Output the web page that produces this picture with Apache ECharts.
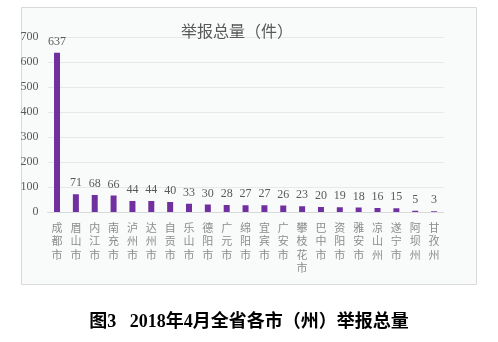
<!DOCTYPE html>
<html><head><meta charset="utf-8">
<script src="https://cdn.jsdelivr.net/npm/echarts@6/dist/echarts.min.js"></script>
<style>html,body{margin:0;padding:0;background:#fff;}#c{width:498px;height:342px;}</style>
</head><body><div id="c"></div>
<script>
const categories = ['成都市','眉山市','内江市','南充市','泸州市','达州市','自贡市','乐山市','德阳市','广元市','绵阳市','宜宾市','广安市','攀枝花市','巴中市','资阳市','雅安市','凉山州','遂宁市','阿坝州','甘孜州'];
const values = [637,71,68,66,44,44,40,33,30,28,27,27,26,23,20,19,18,16,15,5,3];
const yTicks = [0,100,200,300,400,500,600,700];
const chartTitle = '举报总量（件）';
const caption = '图3   2018年4月全省各市（州）举报总量';

const chart = echarts.init(document.getElementById('c'));
chart.setOption({
  animation:false,
  backgroundColor:'#fff',
  graphic:[
    {type:'rect', z:-10, shape:{x:21.5,y:7.5,width:455,height:277}, style:{fill:'#F8FBF9', stroke:'#D9D9D9', lineWidth:1}},
    {type:'text', x:249, y:322, style:{text:caption, align:'center', verticalAlign:'middle', font:'bold 18px "Liberation Serif","Noto Sans CJK SC"', fill:'#000'}}
  ],
  title:{text:chartTitle, left:232, textAlign:'center', top:18, textStyle:{fontSize:16, fontWeight:'normal', color:'#595959', fontFamily:'"Noto Sans CJK SC"'}},
  grid:{left:47.6, right:54.5, top:37, bottom:130},
  xAxis:{type:'category', data:categories,
    axisLine:{lineStyle:{color:'#D9D9D9'}}, axisTick:{show:false},
    axisLabel:{interval:0, margin:9, color:'#8C8C8C', fontSize:11, lineHeight:13.5, fontFamily:'"Noto Sans CJK SC"',
      formatter:v=>v.split('').join('\n')}},
  yAxis:{type:'value', min:yTicks[0], max:yTicks[yTicks.length-1], interval:100,
    axisLine:{show:false}, axisTick:{show:false},
    splitLine:{lineStyle:{color:'#E6E9E7'}},
    axisLabel:{color:'#595959', fontSize:12, margin:9, fontFamily:'"Liberation Serif"'}},
  series:[{type:'bar', data:values, barWidth:6, itemStyle:{color:'#7030A0'},
    label:{show:true, position:'top', distance:5, color:'#595959', fontSize:12, fontFamily:'"Liberation Serif"'}}]
});
</script></body></html>
